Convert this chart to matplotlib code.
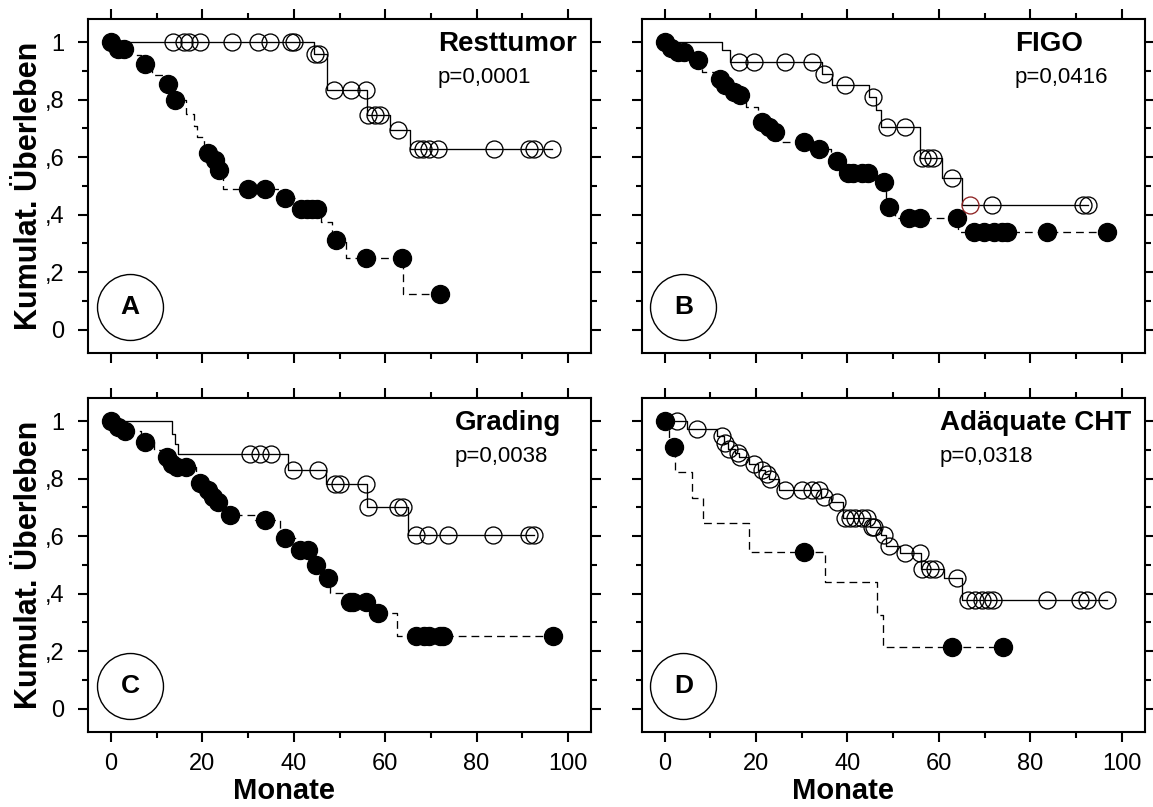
import numpy as np
import matplotlib
matplotlib.use("Agg")
import matplotlib.pyplot as plt
from matplotlib.ticker import FixedLocator, FixedFormatter

plt.rcParams['font.family'] = ['Liberation Sans', 'DejaVu Sans']
plt.rcParams['lines.scale_dashes'] = False

# ---------------------------------------------------------------- data
# Kaplan-Meier curves: step times (months) and cumulative survival after each step,
# plus censoring times (circles). "open" = solid line / open circles,
# "filled" = dashed line / filled circles.

# A: Resttumor
a_open_t = [0, 44.4, 47.3, 56.0, 61.0, 65.4]
a_open_s = [1.0, 0.96, 0.832, 0.746, 0.694, 0.627]
a_open_c = [13.6, 16.0, 17.0, 19.5, 26.4, 32.2, 34.8, 39.3, 40.0, 44.6, 45.5, 48.8,
            52.6, 55.8, 56.2, 57.7, 58.8, 62.8, 67.2, 68.3, 69.7, 71.5, 83.9, 91.6,
            92.5, 96.5]
a_fill_t = [0, 1.0, 3.5, 6.5, 8.9, 11.5, 13.5, 16.5, 18.2, 18.7, 20.4, 22.3, 23.2,
            24.5, 37.3, 40.5, 46.0, 48.3, 51.5, 64.0]
a_fill_s = [1.0, 0.975, 0.955, 0.925, 0.885, 0.853, 0.798, 0.75, 0.708, 0.67, 0.613,
            0.59, 0.555, 0.49, 0.457, 0.418, 0.373, 0.312, 0.249, 0.125]
a_fill_c = [0.0, 1.5, 2.8, 7.4, 12.5, 14.0, 21.2, 22.7, 23.6, 30.0, 33.7, 38.0, 41.5,
            42.8, 44.0, 45.0, 49.2, 55.9, 63.7, 71.9]

# B: FIGO
b_open_t = [0, 12.5, 14.4, 34.4, 36.6, 44.6, 46.3, 47.4, 55.9, 60.6, 65.0]
b_open_s = [1.0, 0.971, 0.931, 0.89, 0.85, 0.809, 0.763, 0.705, 0.596, 0.526, 0.434]
b_open_c = [16.2, 19.5, 26.4, 32.2, 34.8, 39.5, 45.6, 48.6, 52.6, 56.3, 57.7, 58.8,
            62.8, 66.8, 71.6, 91.6, 92.7]
b_open_red = 66.8
b_fill_t = [0, 1.0, 2.5, 6.5, 8.2, 11.5, 13.0, 14.5, 16.0, 17.8, 20.5, 22.3, 23.8,
            24.7, 32.5, 36.5, 39.0, 46.5, 48.5, 50.5, 64.2]
b_fill_s = [1.0, 0.98, 0.965, 0.937, 0.896, 0.873, 0.85, 0.827, 0.815, 0.775, 0.723,
            0.705, 0.688, 0.653, 0.627, 0.587, 0.544, 0.514, 0.428, 0.387, 0.341]
b_fill_c = [0.0, 1.5, 3.0, 4.2, 7.4, 12.2, 13.3, 15.1, 16.5, 21.3, 22.8, 24.2, 30.4,
            33.7, 37.7, 40.2, 41.3, 43.1, 44.4, 48.0, 49.0, 53.4, 55.9, 63.9, 67.6,
            69.8, 72.0, 73.8, 74.9, 83.6, 96.7]

# C: Grading
c_open_t = [0, 13.3, 14.0, 14.7, 38.8, 47.1, 56.1, 65.0]
c_open_s = [1.0, 0.956, 0.92, 0.887, 0.829, 0.78, 0.702, 0.604]
c_open_c = [30.4, 32.6, 35.1, 39.8, 45.3, 49.0, 50.0, 55.9, 56.3, 62.8, 63.9, 66.8,
            69.4, 73.7, 83.7, 91.6, 92.5]
c_fill_t = [0, 1.0, 2.5, 6.5, 9.3, 11.5, 12.8, 14.0, 18.5, 20.8, 22.0, 23.0, 25.0,
            31.5, 37.0, 40.5, 44.3, 46.5, 48.0, 51.0, 57.5, 62.5]
c_fill_s = [1.0, 0.98, 0.965, 0.927, 0.9, 0.875, 0.852, 0.84, 0.783, 0.76, 0.736,
            0.719, 0.673, 0.656, 0.592, 0.552, 0.50, 0.453, 0.401, 0.372, 0.332, 0.253]
c_fill_c = [0.0, 1.5, 3.0, 7.4, 12.2, 13.3, 14.4, 16.5, 19.5, 21.3, 22.4, 23.5, 26.0,
            33.7, 38.0, 41.3, 43.2, 44.8, 47.5, 52.2, 53.0, 55.9, 58.4, 66.8, 68.6,
            69.7, 71.9, 72.6, 96.7]

# D: Adäquate CHT
d_open_t = [0, 5.0, 11.5, 13.0, 13.8, 15.5, 16.3, 18.5, 20.5, 22.0, 22.8, 25.0, 34.3,
            36.5, 39.0, 45.0, 47.3, 48.5, 51.5, 56.0, 61.0, 65.0]
d_open_s = [1.0, 0.973, 0.947, 0.922, 0.904, 0.89, 0.876, 0.852, 0.829, 0.815, 0.80,
            0.76, 0.736, 0.719, 0.662, 0.632, 0.604, 0.565, 0.54, 0.486, 0.453, 0.378]
d_open_c = [2.7, 7.1, 12.5, 13.3, 14.0, 16.0, 16.5, 19.5, 21.3, 22.4, 23.1, 26.4, 30.0,
            32.2, 33.7, 34.8, 37.7, 39.5, 40.6, 41.7, 43.1, 44.2, 45.3, 45.9, 47.9,
            49.0, 52.6, 55.8, 56.3, 58.1, 59.2, 63.9, 66.4, 67.9, 69.4, 70.8, 71.9,
            83.6, 90.9, 92.3, 96.7]
d_fill_t = [0, 1.0, 2.2, 6.0, 8.5, 18.4, 35.1, 46.4, 47.8]
d_fill_s = [1.0, 0.91, 0.823, 0.731, 0.644, 0.546, 0.44, 0.326, 0.216]
d_fill_c = [0.0, 2.0, 30.4, 62.8, 74.1]

panel_titles = ["Resttumor", "FIGO", "Grading", "Adäquate CHT"]
p_values = ["p=0,0001", "p=0,0416", "p=0,0038", "p=0,0318"]
panel_letters = ["A", "B", "C", "D"]

x_major = [0, 20, 40, 60, 80, 100]
x_minor = [10, 30, 50, 70, 90]
x_labels = ["0", "20", "40", "60", "80", "100"]
y_major = [0, 0.2, 0.4, 0.6, 0.8, 1.0]
y_minor = [0.1, 0.3, 0.5, 0.7, 0.9]
y_labels = ["0", ",2", ",4", ",6", ",8", "1"]

x_title = "Monate"
y_title = "Kumulat. Überleben"

# ---------------------------------------------------------------- layout
W, H = 1153, 807
fig = plt.figure(figsize=(W / 100, H / 100), dpi=100)


def add_axes_px(left, top, right, bottom):
    return fig.add_axes([left / W, 1 - bottom / H, (right - left) / W, (bottom - top) / H])


boxes = [(88.3, 19, 590.7, 352.7), (641.7, 19, 1144.7, 352.7),
         (88.3, 398, 590.7, 731.7), (641.7, 398, 1144.7, 731.7)]
title_x = [0.696, 0.742, 0.730, 0.593]
xlabel_x = [0.39, 0.40, 0.39, 0.40]

LW = 0.95
SPINE_W = 1.5


def step_value(times, surv, t):
    idx = np.searchsorted(np.asarray(times), np.asarray(t), side='right') - 1
    return np.asarray(surv)[idx]


def km_curve(ax, times, surv, censor, filled, red_at=None):
    t_end = max(censor[-1], times[-1])
    xs = np.append(times, t_end)
    ys = np.append(surv, surv[-1])
    line, = ax.plot(xs, ys, drawstyle='steps-post', color='black', lw=LW)
    if filled:
        line.set_dashes((5.6, 3.6))
    cy = step_value(times, surv, censor)
    if filled:
        ax.plot(censor, cy, ls='none', marker='o', ms=13, mfc='black', mec='black',
                mew=LW, zorder=3)
    else:
        censor = np.asarray(censor)
        mask = np.ones(len(censor), bool)
        if red_at is not None:
            mask = ~np.isclose(censor, red_at)
        ax.plot(censor[mask], cy[mask], ls='none', marker='o', ms=12.2, mfc='none',
                mec='black', mew=LW, zorder=3)
        if red_at is not None:
            ax.plot([red_at], [step_value(times, surv, [red_at])[0]], ls='none',
                    marker='o', ms=12.2, mfc='none', mec='#8e2323', mew=LW, zorder=3)


curves = [
    (a_open_t, a_open_s, a_open_c, a_fill_t, a_fill_s, a_fill_c, None),
    (b_open_t, b_open_s, b_open_c, b_fill_t, b_fill_s, b_fill_c, b_open_red),
    (c_open_t, c_open_s, c_open_c, c_fill_t, c_fill_s, c_fill_c, None),
    (d_open_t, d_open_s, d_open_c, d_fill_t, d_fill_s, d_fill_c, None),
]

for i, box in enumerate(boxes):
    ax = add_axes_px(*box)
    ot, os_, oc, ft, fs, fc, red = curves[i]
    km_curve(ax, ft, fs, fc, filled=True)
    km_curve(ax, ot, os_, oc, filled=False, red_at=red)

    ax.set_xlim(-5, 105)
    ax.set_ylim(-0.08, 1.08)
    ax.xaxis.set_major_locator(FixedLocator(x_major))
    ax.xaxis.set_minor_locator(FixedLocator(x_minor))
    ax.yaxis.set_major_locator(FixedLocator(y_major))
    ax.yaxis.set_minor_locator(FixedLocator(y_minor))
    ax.xaxis.set_major_formatter(FixedFormatter(x_labels))
    ax.yaxis.set_major_formatter(FixedFormatter(y_labels))

    left_col = i % 2 == 0
    bottom_row = i >= 2
    ax.tick_params(which='both', direction='out', top=True, right=True, bottom=True,
                   left=True, width=SPINE_W, labelsize=17,
                   labelbottom=bottom_row, labelleft=left_col)
    ax.tick_params(axis='x', which='major', pad=8)
    ax.tick_params(axis='y', which='major', pad=10)
    ax.tick_params(which='major', length=7)
    ax.tick_params(which='minor', length=4)
    for sp in ax.spines.values():
        sp.set_linewidth(SPINE_W)

    if left_col:
        ax.set_ylabel(y_title, fontsize=22, fontweight='bold', va='center')
        ax.yaxis.set_label_coords(-0.118, 0.5)
    if bottom_row:
        ax.set_xlabel(x_title, fontsize=21, fontweight='bold', va='center')
        ax.xaxis.set_label_coords(xlabel_x[i], -0.178)

    ax.text(title_x[i], 0.926, panel_titles[i], transform=ax.transAxes, ha='left',
            va='center', fontsize=20, fontweight='bold')
    ax.text(title_x[i], 0.826, p_values[i], transform=ax.transAxes, ha='left',
            va='center', fontsize=16)

    ax.plot([0.083], [0.138], transform=ax.transAxes, marker='o', ms=47.5,
            mfc='none', mec='black', mew=1.0, clip_on=False)
    ax.text(0.083, 0.138, panel_letters[i], transform=ax.transAxes, ha='center',
            va='center', fontsize=19, fontweight='bold')

fig.savefig("out.png", dpi=100, facecolor='white')
